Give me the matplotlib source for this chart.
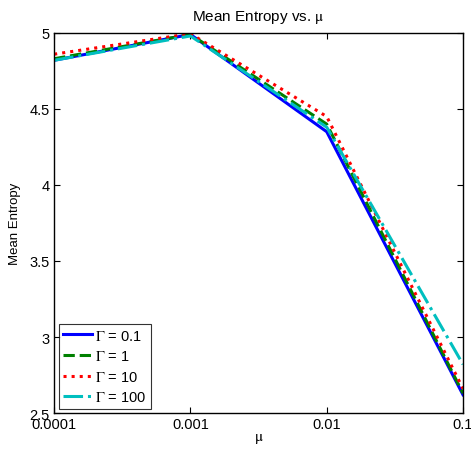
import matplotlib
matplotlib.use("Agg")
import matplotlib.pyplot as plt
from matplotlib.ticker import FixedLocator, NullLocator

plt.rcParams['font.family'] = ['Liberation Sans', 'DejaVu Sans']
plt.rcParams['mathtext.fontset'] = 'stix'

# mu values and mean entropy for each Gamma
mu = [0.0001, 0.001, 0.01, 0.1]
gamma_labels = ['0.1', '1', '10', '100']
ent_g01 = [4.82, 4.99, 4.35, 2.62]
ent_g1 = [4.83, 4.99, 4.40, 2.63]
ent_g10 = [4.86, 4.995, 4.45, 2.66]
ent_g100 = [4.82, 4.98, 4.38, 2.82]

series = [ent_g01, ent_g1, ent_g10, ent_g100]
colors = ['#0000ff', '#008000', '#ff0000', '#00bfbf']
styles = ['-', '--', ':', '-.']

fig = plt.figure(figsize=(4.71, 4.52), dpi=100)
ax = fig.add_axes([0.115, 0.084, 0.868, 0.841])

for vals, c, ls, g in zip(series, colors, styles, gamma_labels):
    ax.plot(mu, vals, color=c, linestyle=ls, linewidth=2.2,
            label=r'$\Gamma$ = ' + g)

ax.set_xscale('log')
ax.set_xlim(0.0001, 0.1)
ax.set_ylim(2.5, 5)
ax.xaxis.set_major_locator(FixedLocator(mu))
ax.xaxis.set_minor_locator(NullLocator())
ax.set_xticklabels(['0.0001', '0.001', '0.01', '0.1'])
ax.set_yticks([2.5, 3, 3.5, 4, 4.5, 5])
ax.set_yticklabels(['2.5', '3', '3.5', '4', '4.5', '5'])
ax.tick_params(direction='in', top=True, right=True, labelsize=10.5, length=4, pad=3)
for s in ax.spines.values():
    s.set_linewidth(1.0)

ax.set_xlabel(r'$\mathrm{\mu}$', fontsize=11, labelpad=0)
ax.set_ylabel('Mean Entropy', fontsize=9.5, labelpad=6)
ax.set_title(r'Mean Entropy vs. $\mathrm{\mu}$', fontsize=11, pad=9)

leg = ax.legend(loc='lower left', fontsize=10.5, frameon=True, fancybox=False,
                edgecolor='black', handlelength=2.0, handletextpad=0.2,
                borderpad=0.3, labelspacing=0.45, borderaxespad=0.3)
leg.get_frame().set_linewidth(0.8)

fig.savefig('out.png', dpi=100)
